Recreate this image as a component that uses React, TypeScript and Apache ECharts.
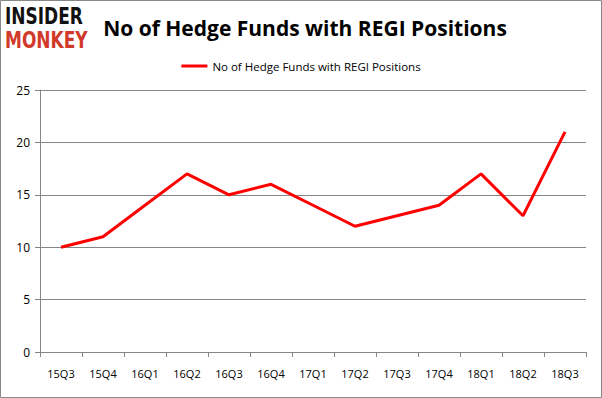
import React, { useEffect, useRef } from "react";
import * as echarts from "echarts";

const categories = ["15Q3", "15Q4", "16Q1", "16Q2", "16Q3", "16Q4", "17Q1", "17Q2", "17Q3", "17Q4", "18Q1", "18Q2", "18Q3"];
const values = [10, 11, 14, 17, 15, 16, 14, 12, 13, 14, 17, 13, 21];
const seriesName = "No of Hedge Funds with REGI Positions";
const titleText = "No of Hedge Funds with REGI Positions";

export default function App() {
  const ref = useRef<HTMLDivElement>(null);
  useEffect(() => {
    if (!ref.current) return;
    const chart = echarts.init(ref.current, null, { renderer: "svg" });
    chart.setOption({
      animation: false,
      backgroundColor: "#fff",
      title: {
        text: titleText,
        left: 300,
        top: 12,
        textAlign: "center",
        textStyle: { fontSize: 21, fontWeight: "bold", color: "#000", fontFamily: "'Open Sans', sans-serif" },
      },
      legend: {
        top: 55,
        left: "center",
        itemWidth: 26,
        itemHeight: 3,
        itemGap: 4,
        icon: "rect",
        textStyle: { fontSize: 11.5, color: "#000", fontFamily: "'Open Sans', sans-serif" },
        data: [seriesName],
      },
      graphic: [
        { type: "rect", shape: { x: 0.5, y: 0.5, width: 601, height: 397 }, style: { fill: "none", stroke: "#888", lineWidth: 1 }, silent: true },
        { type: "text", x: 5, y: 6, scaleY: 1.3, style: { text: "INSIDER", fill: "#111", fontSize: 17, fontWeight: "bold", letterSpacing: 1, fontFamily: "'DejaVu Sans', sans-serif" } },
        { type: "text", x: 5, y: 30, scaleY: 1.3, style: { text: "MONKEY", fill: "#d13a2a", fontSize: 17, fontWeight: "bold", letterSpacing: 2, fontFamily: "'DejaVu Sans', sans-serif" } },
      ],
      grid: { left: 40, right: 16, top: 90, bottom: 46, containLabel: false },
      xAxis: {
        type: "category",
        data: categories,
        boundaryGap: true,
        axisLine: { lineStyle: { color: "#868686" } },
        axisTick: { show: true, length: 5, lineStyle: { color: "#868686" } },
        axisLabel: { color: "#000", fontSize: 11, margin: 16, fontFamily: "'Open Sans', sans-serif" },
      },
      yAxis: {
        type: "value",
        min: 0,
        max: 25,
        interval: 5,
        axisLine: { show: true, lineStyle: { color: "#868686" } },
        axisTick: { show: true, length: 5, lineStyle: { color: "#868686" } },
        splitLine: { lineStyle: { color: "#868686" } },
        axisLabel: { color: "#000", fontSize: 12, margin: 10, fontFamily: "'Open Sans', sans-serif" },
      },
      series: [
        {
          name: seriesName,
          type: "line",
          data: values,
          symbol: "none",
          lineStyle: { color: "#ff0000", width: 3 },
          itemStyle: { color: "#ff0000" },
        },
      ],
    });
    return () => chart.dispose();
  }, []);
  return <div ref={ref} style={{ position: "absolute", left: 0, top: 0, width: 602, height: 398 }} />;
}
